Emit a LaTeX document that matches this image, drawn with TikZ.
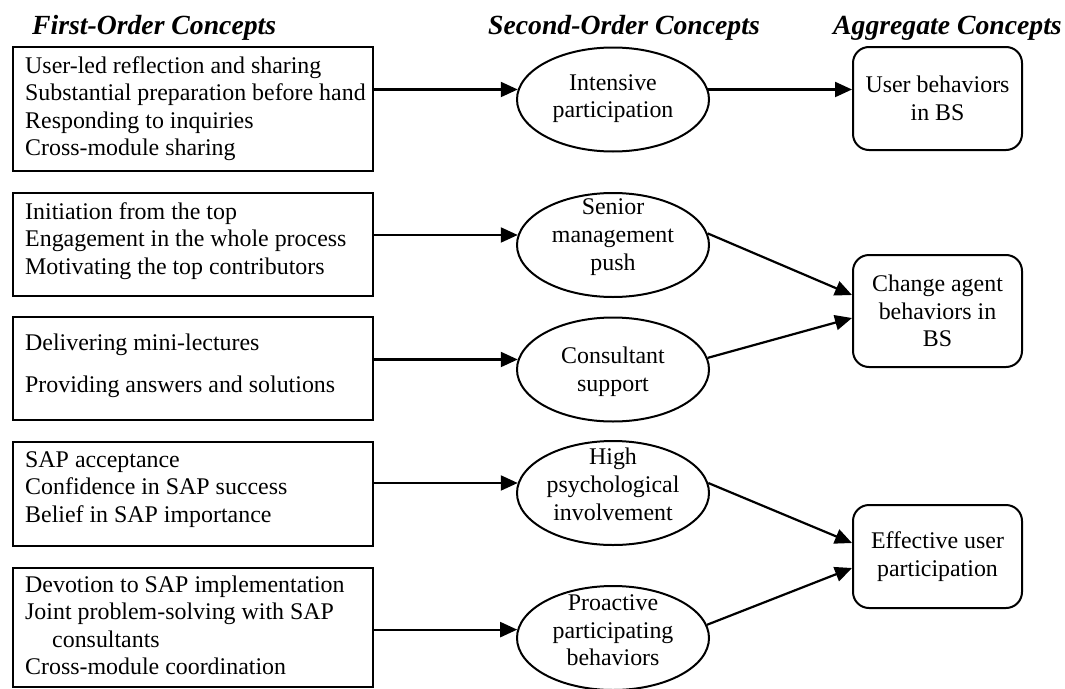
\documentclass[tikz,border=0pt]{standalone}
\usepackage{fontspec}
\setmainfont{Liberation Serif}
\usetikzlibrary{arrows.meta,shapes.geometric,calc}
\begin{document}
\begin{tikzpicture}[x=1pt,y=-1pt,
  every node/.style={font=\fontsize{23.9}{27.6}\selectfont, inner sep=0pt},
  hdr/.style={font=\fontsize{27.7}{30}\selectfont\bfseries\itshape, anchor=base west},
  fbox/.style={draw, line width=2.4pt, rectangle, minimum width=360pt},
  btxt/.style={anchor=base west},
  ell/.style={draw, ellipse, line width=2pt, minimum width=192pt, minimum height=104pt},
  etxt/.style={anchor=center},
  agg/.style={draw, rectangle, rounded corners=16pt, line width=2pt, minimum width=169pt, align=center},
  arr/.style={line width=2.2pt, -{Triangle[length=17pt,width=15pt]}}]
\useasboundingbox (0,0) rectangle (1065,688);

% headers
\node[hdr] (h1) at (32,34) {First-Order Concepts};
\node[hdr] (h2) at (488,34) {Second-Order Concepts};
\node[hdr] (h3) at (833,34) {Aggregate Concepts};

% first-order boxes
\node[fbox, minimum height=124pt] (b1) at (193,109) {};
\node[fbox, minimum height=103pt] (b2) at (193,244.5) {};
\node[fbox, minimum height=103pt] (b3) at (193,368.5) {};
\node[fbox, minimum height=104pt] (b4) at (193,494) {};
\node[fbox, minimum height=119pt] (b5) at (193,627.5) {};

\node[btxt] (t1) at (25,73) {\begin{tabular}[t]{@{}l@{}}User-led reflection and sharing\\Substantial preparation before hand\\Responding to inquiries\\Cross-module sharing\end{tabular}};
\node[btxt] (t2) at (25,219) {\begin{tabular}[t]{@{}l@{}}Initiation from the top\\Engagement in the whole process\\Motivating the top contributors\end{tabular}};
\node[btxt] (t3) at (25,350) {\begin{tabular}[t]{@{}l@{}}Delivering mini-lectures\\[14.4pt]Providing answers and solutions\end{tabular}};
\node[btxt] (t4) at (25,467) {\begin{tabular}[t]{@{}l@{}}SAP acceptance\\Confidence in SAP success\\Belief in SAP importance\end{tabular}};
\node[btxt] (t5) at (25,592) {\begin{tabular}[t]{@{}l@{}}Devotion to SAP implementation\\Joint problem-solving with SAP\\\hspace*{27pt}consultants\\Cross-module coordination\end{tabular}};

% second-order ellipses
\node[ell] (e1) at (613,99.5) {};
\node[ell] (e2) at (613,245) {};
\node[ell] (e3) at (613,369.5) {};
\node[ell] (e4) at (613,493) {};
\node[ell] (e5) at (613,638) {};

\node[etxt] (l1) at (613,98.5) {\begin{tabular}{@{}c@{}}Intensive\\participation\end{tabular}};
\node[etxt] (l2) at (613,237) {\begin{tabular}{@{}c@{}}Senior\\management\\push\end{tabular}};
\node[etxt] (l3) at (613,372) {\begin{tabular}{@{}c@{}}Consultant\\support\end{tabular}};
\node[etxt] (l4) at (613,487) {\begin{tabular}{@{}c@{}}High\\psychological\\involvement\end{tabular}};
\node[etxt] (l5) at (613,632.5) {\begin{tabular}{@{}c@{}}Proactive\\participating\\behaviors\end{tabular}};

% aggregate boxes
\node[agg, minimum height=103pt] (ub) at (937.5,98.5) {User behaviors\\in BS};
\node[agg, minimum height=112pt] (ca) at (937.5,311) {Change agent\\behaviors in\\BS};
\node[agg, minimum height=103pt] (eu) at (937.5,556.5) {Effective user\\participation};

% connectors
\draw[arr] (b1.east |- e1.174) -- (e1.174);
\draw[arr] (b2.east |- e2.174) -- (e2.174);
\draw[arr] (b3.east |- e3.174) -- (e3.174);
\draw[arr] (b4.east |- e4.174) -- (e4.174);
\draw[arr] (b5.east |- e5.175) -- (e5.175);

\draw[arr] (e1.6) -- (e1.6 -| ub.west);
\draw[arr] (e2.7) -- ($(ca.west)+(0,-16)$);
\draw[arr] (e3.7) -- ($(ca.west)+(0,7)$);
\draw[arr] (e4.6) -- ($(eu.west)+(0,-13.5)$);
\draw[arr] (e5.8) -- ($(eu.west)+(0,11.5)$);
\end{tikzpicture}
\end{document}
